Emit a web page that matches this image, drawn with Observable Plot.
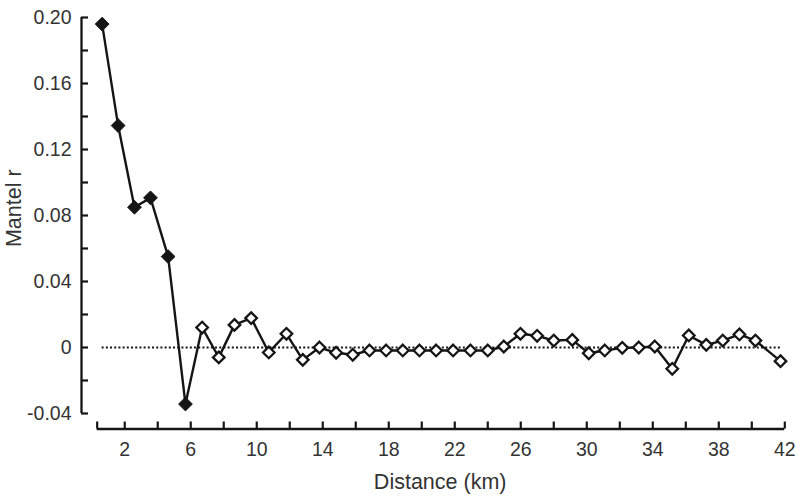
<!DOCTYPE html>
<html><head><meta charset="utf-8">
<script src="https://cdn.jsdelivr.net/npm/d3@7"></script>
<script src="https://cdn.jsdelivr.net/npm/@observablehq/plot@0.6"></script>
<style>body{margin:0;background:#fff} svg{display:block}</style>
</head><body><div id="chart"></div>
<script>
const distanceKm = [0.63,1.60,2.59,3.56,4.63,5.68,6.69,7.70,8.65,9.66,10.73,11.80,12.79,13.80,14.81,15.82,16.83,17.84,18.85,19.86,20.87,21.90,22.95,24.0,24.97,25.98,26.99,28.0,29.12,30.12,31.09,32.15,33.15,34.12,35.18,36.18,37.24,38.24,39.25,40.22,41.74];
const mantelR = [0.196,0.1345,0.085,0.0907,0.0551,-0.0343,0.0121,-0.006,0.0137,0.0178,-0.003,0.0083,-0.0075,0.0,-0.0032,-0.0044,-0.0018,-0.0018,-0.0018,-0.0018,-0.0018,-0.0018,-0.0018,-0.0018,0.0006,0.0083,0.0071,0.0042,0.0046,-0.0035,-0.0018,-0.0002,0.0,0.0006,-0.0129,0.0073,0.0016,0.0042,0.0079,0.0042,-0.0083];
const significant = [true,true,true,true,true,true,false,false,false,false,false,false,false,false,false,false,false,false,false,false,false,false,false,false,false,false,false,false,false,false,false,false,false,false,false,false,false,false,false,false,false];
const yTickLabels = [-0.04,0,0.04,0.08,0.12,0.16,0.20];
const yMinorTicks = [-0.02,0.02,0.06,0.10,0.14,0.18];
const xTickLabels = [2,6,10,14,18,22,26,30,34,38,42];
const xMinorTicks = [4,8,12,16,20,24,28,32,36,40];
const xAxisStart = 0.33;
const yAxisTitle = "Mantel r";
const xAxisTitle = "Distance (km)";

const data = distanceKm.map((d, i) => ({distance: d, r: mantelR[i], sig: significant[i]}));
const xMin = -0.62, xMax = 42, yMin = -0.0494, yMax = 0.2;
const ink = "#151515", textInk = "#333";
const fmt = d => d === 0 ? "0" : (d < 0 ? "-" : "") + Math.abs(d).toFixed(2);

const chart = Plot.plot({
  width: 800, height: 501,
  marginLeft: 81, marginRight: 15.7, marginTop: 17, marginBottom: 72.5,
  style: {fontFamily: "'Liberation Sans', Arial, sans-serif", fontSize: "19.5px", color: textInk, background: "#fff"},
  x: {domain: [xMin, xMax], axis: null},
  y: {domain: [yMin, yMax], axis: null},
  marks: [
    Plot.ruleX([xMin], {y1: d3.min(yTickLabels), y2: d3.max(yTickLabels), stroke: ink, strokeWidth: 2.3}),
    Plot.ruleY([yMin], {x1: xAxisStart, x2: d3.max(xTickLabels), stroke: ink, strokeWidth: 2.3}),
    Plot.axisY([...yTickLabels, ...yMinorTicks], {tickSize: 7, insetLeft: 7, tickFormat: () => "", stroke: ink, strokeWidth: 2.2, label: null}),
    Plot.axisY(yTickLabels, {tickSize: 0, tickPadding: 10, tickFormat: fmt, fill: textInk, fontSize: 19.5, label: null}),
    Plot.axisX([xAxisStart, ...xTickLabels, ...xMinorTicks], {tickSize: 7, insetBottom: 7, tickFormat: () => "", stroke: ink, strokeWidth: 2.2, label: null}),
    Plot.axisX(xTickLabels, {tickSize: 0, tickPadding: 13, fill: textInk, fontSize: 19.5, label: null}),
    Plot.ruleY([0], {x1: d3.min(distanceKm), x2: d3.max(distanceKm), stroke: ink, strokeWidth: 2, strokeDasharray: "2,2.2"}),
    Plot.line(data, {x: "distance", y: "r", stroke: ink, strokeWidth: 2.4}),
    Plot.dot(data.filter(d => !d.sig), {x: "distance", y: "r", symbol: "diamond2", r: 5.2, fill: "white", stroke: ink, strokeWidth: 2.3}),
    Plot.dot(data.filter(d => d.sig), {x: "distance", y: "r", symbol: "diamond2", r: 6.2, fill: ink, stroke: ink, strokeWidth: 1}),
    Plot.text([yAxisTitle], {frameAnchor: "left", dx: -67, dy: -15, rotate: -90, textAnchor: "middle", lineAnchor: "middle", fontSize: 21.5, fill: textInk}),
    Plot.text([xAxisTitle], {frameAnchor: "bottom", dx: 7, dy: 53, textAnchor: "middle", lineAnchor: "middle", fontSize: 21.5, fill: textInk})
  ]
});
document.getElementById("chart").appendChild(chart);
</script>
</body></html>
